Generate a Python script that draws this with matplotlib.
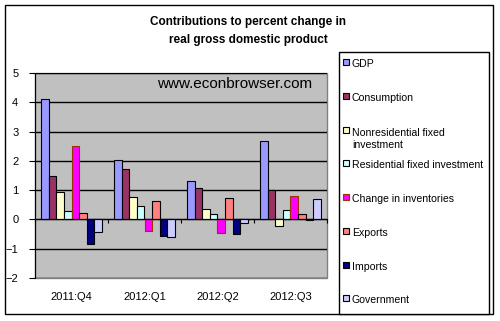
import numpy as np
import matplotlib.pyplot as plt
from matplotlib.patches import Rectangle
from matplotlib.transforms import blended_transform_factory

plt.rcParams['font.family'] = ['Liberation Sans', 'DejaVu Sans']

quarters = ['2011:Q4', '2012:Q1', '2012:Q2', '2012:Q3']
series = ['GDP', 'Consumption', 'Nonresidential fixed\ninvestment',
          'Residential fixed investment', 'Change in inventories',
          'Exports', 'Imports', 'Government']
gdp = [4.10, 2.02, 1.32, 2.68]
consumption = [1.48, 1.73, 1.08, 1.00]
nonres = [0.93, 0.77, 0.36, -0.23]
residential = [0.28, 0.47, 0.19, 0.32]
inventories = [2.50, -0.40, -0.48, 0.81]
exports = [0.22, 0.63, 0.74, 0.19]
imports = [-0.84, -0.55, -0.50, -0.02]
government = [-0.43, -0.60, -0.13, 0.70]
values = [gdp, consumption, nonres, residential, inventories, exports, imports, government]

colors = ['#9999FF', '#993366', '#FFFFCC', '#CCFFFF', '#FF00FF', '#FF8080', '#000080', '#CCCCFF']
edges = ['black', 'black', 'black', 'black', '#993300', 'black', 'black', 'black']

W, H = 500, 321
fig = plt.figure(figsize=(W / 100, H / 100), dpi=100)

def px(x, y):
    return x / W, 1 - y / H

# outer chart border
fig.patches.append(Rectangle(px(5, 314), 488 / W, 309 / H, transform=fig.transFigure,
                             fill=False, edgecolor='black', lw=1))

fig.text(0.496, 1 - 22 / H, 'Contributions to percent change in', ha='center', va='center',
         fontsize=8.5, fontweight='bold')
fig.text(0.496, 1 - 40 / H, 'real gross domestic product', ha='center', va='center',
         fontsize=8.5, fontweight='bold')

ax = fig.add_axes([35 / W, 1 - 278 / H, 292 / W, 205 / H])
ax.set_facecolor('#C0C0C0')
ax.patch.set_edgecolor('#808080')
ax.patch.set_linewidth(1)

x = np.arange(len(quarters))
w = 0.104
for j, (vals, c, ec) in enumerate(zip(values, colors, edges)):
    ax.bar(x + (j - 3.5) * w, vals, w, color=c, edgecolor=ec, lw=0.8, zorder=3)

ax.set_xlim(-0.5, 3.5)
ax.set_ylim(-2, 5)
ax.set_yticks(range(-2, 6))
ax.yaxis.grid(True, color='black', lw=1)
ax.set_axisbelow(True)
ax.tick_params(axis='y', length=4, direction='out', labelsize=8, pad=8)

for s in ['top', 'right']:
    ax.spines[s].set_visible(False)
ax.spines['left'].set_color('black')
ax.spines['bottom'].set_position(('data', 0))
ax.spines['bottom'].set_zorder(4)
ax.set_xticks(np.arange(-0.5, 4, 1))
ax.set_xticklabels([])
ax.tick_params(axis='x', length=3, direction='out')

tr = blended_transform_factory(ax.transData, ax.transAxes)
for xi, q in zip(x, quarters):
    ax.text(xi, -0.095, q, transform=tr, ha='center', va='center', fontsize=8)

ax.text(0.682, 0.946, 'www.econbrowser.com', transform=ax.transAxes, ha='center', va='center',
        fontsize=11)

# legend box
fig.patches.append(Rectangle(px(339, 314), 150 / W, 262 / H, transform=fig.transFigure,
                             facecolor='white', edgecolor='black', lw=1, zorder=2))
legend_y = [63, 97, 138, 164, 198, 232, 266, 299]
for name, c, ec, yy in zip(series, colors, edges, legend_y):
    sy = yy if '\n' not in name else yy - 7
    fig.patches.append(Rectangle(px(343, sy + 2), 6 / W, 6 / H, transform=fig.transFigure,
                                 facecolor=c, edgecolor=ec, lw=0.8, zorder=3))
    fig.text(352 / W, 1 - (yy + 1) / H, name, ha='left', va='center', fontsize=7.6,
             linespacing=1.35, zorder=3)

fig.savefig('out.png', dpi=100)
